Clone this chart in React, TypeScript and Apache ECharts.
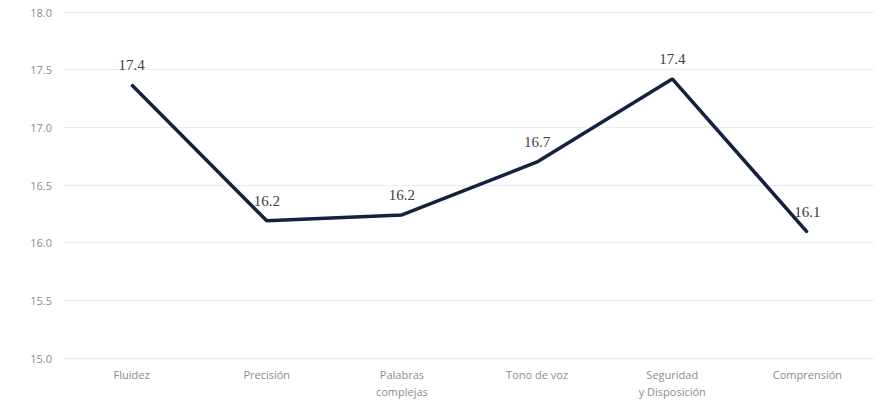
import React, { useEffect, useRef } from "react";
import * as echarts from "echarts";

const categories = ["Fluidez", "Precisión", "Palabras\ncomplejas", "Tono de voz", "Seguridad\ny Disposición", "Comprensión"];
const values = [17.37, 16.19, 16.24, 16.7, 17.42, 16.09];
const yTicks = { min: 15, max: 18, interval: 0.5 };

export default function App() {
  const ref = useRef<HTMLDivElement>(null);
  useEffect(() => {
    const chart = echarts.init(ref.current!, null, { renderer: "svg" });
    chart.setOption({
      animation: false,
      grid: { left: 56, right: 7, top: 12, bottom: 47 },
      xAxis: {
        type: "category",
        data: categories,
        boundaryGap: true,
        axisLine: { show: true, lineStyle: { color: "#ececec", width: 1 } },
        axisTick: { show: false },
        axisLabel: {
          color: "#8c8c8c",
          fontFamily: "Open Sans",
          fontSize: 11,
          lineHeight: 17,
          margin: 8,
          interval: 0,
        },
      },
      yAxis: {
        type: "value",
        min: yTicks.min,
        max: yTicks.max,
        interval: yTicks.interval,
        axisLine: { show: false },
        axisTick: { show: false },
        axisLabel: {
          color: "#8c8c8c",
          fontFamily: "Open Sans",
          fontSize: 11,
          margin: 12,
          formatter: (v: number) => v.toFixed(1),
        },
        splitLine: { lineStyle: { color: "#ececec", width: 1 } },
      },
      series: [
        {
          type: "line",
          data: values,
          showSymbol: true,
          symbol: "circle",
          symbolSize: 1,
          itemStyle: { color: "#14223f" },
          lineStyle: { color: "#14223f", width: 3.5 },
          label: {
            show: true,
            position: "top",
            distance: 12,
            color: "#404040",
            fontFamily: "Liberation Serif",
            fontSize: 15,
            formatter: (p: any) => Number(p.value).toFixed(1),
          },
        },
      ],
    });
    return () => chart.dispose();
  }, []);
  return <div ref={ref} style={{ width: 874, height: 405, marginTop: -8 }} />;
}
